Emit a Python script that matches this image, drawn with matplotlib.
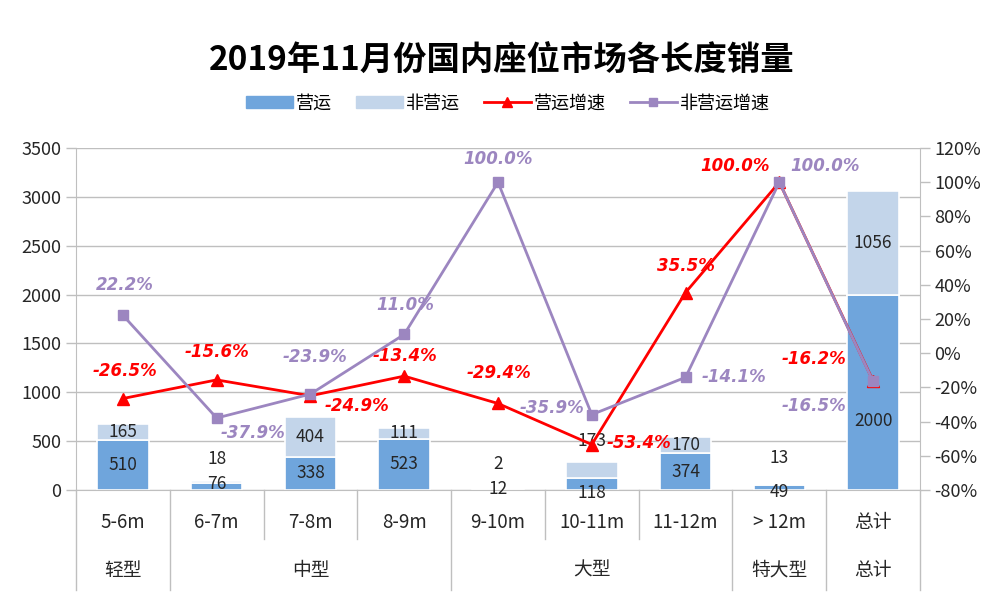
import matplotlib
matplotlib.use("Agg")
from matplotlib import pyplot as plt
from matplotlib.lines import Line2D
from matplotlib.patches import Patch
import matplotlib.transforms as mtrans
import numpy as np

plt.rcParams['font.family'] = ['Noto Sans CJK SC', 'DejaVu Sans']

categories = ["5-6m", "6-7m", "7-8m", "8-9m", "9-10m", "10-11m", "11-12m", "> 12m", "总计"]
groups = ["轻型", "中型", "大型", "特大型", "总计"]
group_sizes = [1, 3, 3, 1, 1]
operating = [510, 76, 338, 523, 12, 118, 374, 49, 2000]
non_operating = [165, 18, 404, 111, 2, 173, 170, 13, 1056]
op_growth = [-26.5, -15.6, -24.9, -13.4, -29.4, -53.4, 35.5, 100.0, -16.2]
nonop_growth = [22.2, -37.9, -23.9, 11.0, 100.0, -35.9, -14.1, 100.0, -16.5]

# label nudges (points) for the small stacks, Excel pushes them around
op_lab_dy = [0, 2, 0, 0, 0, -6, 0, -3, -21]
nonop_lab_dy = [0, 16, 0, 0, 18, 21, 0, 19, 0]
# growth label offsets in pixels (converted to points below)
op_lab_off = [(2, 28), (0, 28), (47, -10), (1, 20), (1, 30), (47, 2), (0, 27), (-44, 16), (-59, 22)]
nonop_lab_off = [(2, 30), (36, -15), (5, 37), (1, 29), (0, 23), (-40, 7), (48, 0), (46, 16), (-59, -25)]

c_op = "#6FA5DC"
c_nonop = "#C3D5EA"
c_red = "#FF0000"
c_purple = "#9C86C0"
grid_c = "#BFBFBF"
txt_c = "#262626"

fig = plt.figure(figsize=(10, 6.01), dpi=100)
ax = fig.add_axes([0.076, 0.1847, 0.844, 0.569])
ax2 = ax.twinx()

x = np.arange(len(categories))
w = 0.55
ax.bar(x, operating, w, color=c_op, edgecolor="white", linewidth=1.2, zorder=2)
ax.bar(x, non_operating, w, bottom=operating, color=c_nonop, edgecolor="white", linewidth=1.2, zorder=2)

for i in range(len(x)):
    ax.annotate(str(operating[i]), (x[i], operating[i] / 2), xytext=(0, op_lab_dy[i]),
                textcoords="offset points", ha="center", va="center", fontsize=12.5, color=txt_c, zorder=3)
    ax.annotate(str(non_operating[i]), (x[i], operating[i] + non_operating[i] / 2), xytext=(0, nonop_lab_dy[i]),
                textcoords="offset points", ha="center", va="center", fontsize=12.5, color=txt_c, zorder=3)

ax.set_xlim(-0.5, len(x) - 0.5)
ax.set_ylim(0, 3500)
ax.set_yticks(np.arange(0, 3501, 500))
ax.yaxis.grid(True, color=grid_c, linewidth=1)
ax.set_axisbelow(True)
ax.set_xticks([])
ax.spines["top"].set_visible(False)
ax.spines["right"].set_visible(False)
ax.spines["left"].set_color(grid_c)
ax.spines["bottom"].set_color(grid_c)
ax.tick_params(axis="y", colors=grid_c, labelcolor=txt_c, labelsize=13, length=7, width=1)

ax2.plot(x, op_growth, color=c_red, marker="^", markersize=8, linewidth=2, zorder=4)
ax2.plot(x, nonop_growth, color=c_purple, marker="s", markersize=7, linewidth=2, zorder=4)
pct_font = dict(fontsize=12, fontweight="bold", style="italic", family=["DejaVu Sans"],
                ha="center", va="center", textcoords="offset points")
for i in range(len(x)):
    dx, dy = op_lab_off[i]
    ax2.annotate(f"{op_growth[i]:.1f}%", (x[i], op_growth[i]), xytext=(dx * 0.72, dy * 0.72),
                 color=c_red, **pct_font)
    dx, dy = nonop_lab_off[i]
    ax2.annotate(f"{nonop_growth[i]:.1f}%", (x[i], nonop_growth[i]), xytext=(dx * 0.72, dy * 0.72),
                 color=c_purple, **pct_font)
ax2.set_ylim(-80, 120)
ax2.set_yticks(np.arange(-80, 121, 20))
ax2.set_yticklabels([f"{v}%" for v in range(-80, 121, 20)])
ax2.tick_params(axis="y", colors=grid_c, labelcolor=txt_c, labelsize=13, length=7, width=1)
for s in ["top", "left", "bottom"]:
    ax2.spines[s].set_visible(False)
ax2.spines["right"].set_color(grid_c)

# two-level category axis
tr = mtrans.blended_transform_factory(ax.transData, ax.transAxes)
for i, c in enumerate(categories):
    ax.text(x[i], -0.094, c, transform=tr, ha="center", va="center", fontsize=13.5, color=txt_c)
bounds = np.arange(len(x) + 1) - 0.5
group_edges = np.concatenate([[0], np.cumsum(group_sizes)]) - 0.5
for b in bounds:
    full = np.any(np.isclose(group_edges, b))
    ax.add_line(Line2D([b, b], [0, -0.292 if full else -0.143], transform=tr, color=grid_c,
                       linewidth=1, clip_on=False))
for g, lo, hi in zip(groups, group_edges[:-1], group_edges[1:]):
    ax.text((lo + hi) / 2, -0.234, g, transform=tr, ha="center", va="center", fontsize=13.5, color=txt_c)

fig.suptitle("2019年11月份国内座位市场各长度销量", x=0.502, y=0.925, fontsize=24, fontweight="bold")

handles = [Patch(color=c_op), Patch(color=c_nonop),
           Line2D([], [], color=c_red, marker="^", markersize=7, linewidth=2),
           Line2D([], [], color=c_purple, marker="s", markersize=6, linewidth=2)]
fig.legend(handles, ["营运", "非营运", "营运增速", "非营运增速"], loc="center", bbox_to_anchor=(0.508, 0.828),
           ncol=4, frameon=False, fontsize=13, handlelength=2.6, handleheight=0.6, columnspacing=1.3,
           handletextpad=0.2)

fig.savefig("out.png", dpi=100)
